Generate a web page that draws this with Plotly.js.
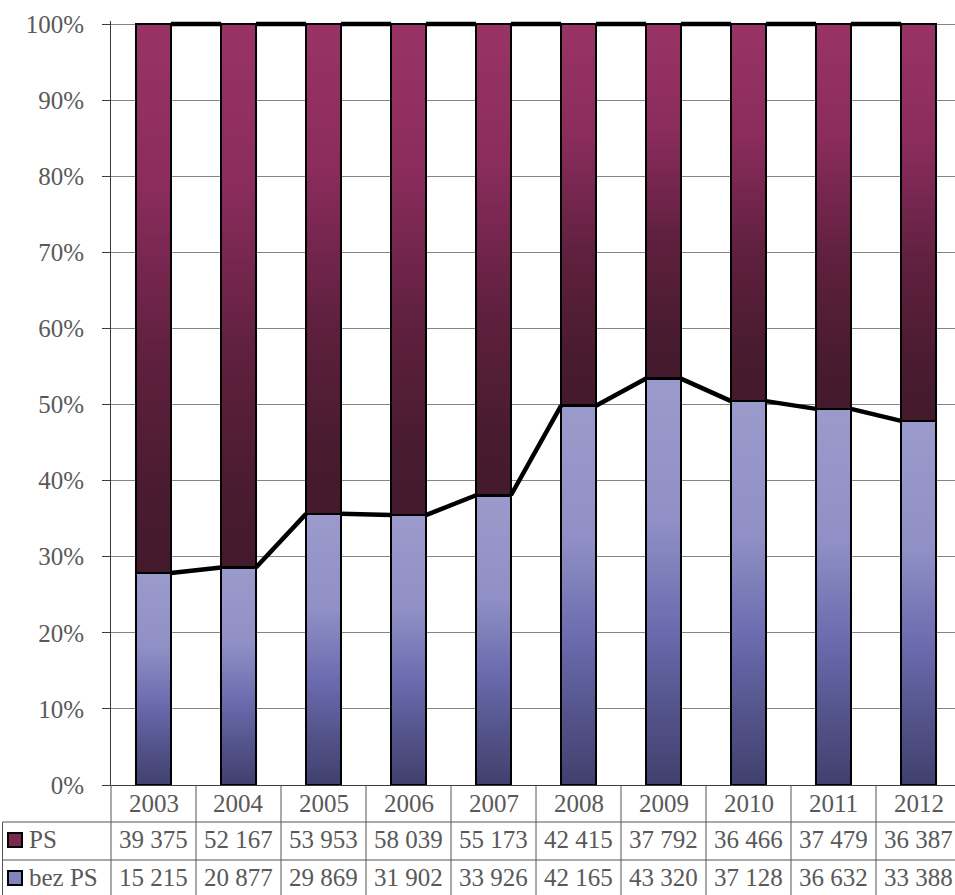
<!DOCTYPE html>
<html>
<head>
<meta charset="utf-8">
<script src="https://cdn.plot.ly/plotly-3.0.1.min.js"></script>
<style>
html,body{margin:0;padding:0;background:#fff;overflow:hidden;}
#chart{width:962px;height:895px;}
</style>
</head>
<body>
<div id="chart"></div>
<script>
// ---- data ----
var years = ['2003','2004','2005','2006','2007','2008','2009','2010','2011','2012'];
var psValues = [39375, 52167, 53953, 58039, 55173, 42415, 37792, 36466, 37479, 36387];
var bezPsValues = [15215, 20877, 29869, 31902, 33926, 42165, 43320, 37128, 36632, 33388];
var seriesNames = ['PS', 'bez PS'];

// ---- geometry / style ----
var W = 962, H = 895;
var M = {l: 111, r: 1, t: 21, b: 110};
var Y_MAX = 100.4;
var plotW = W - M.l - M.r, plotH = H - M.t - M.b;
var BAR_W = 0.41;
var FONT = {family: 'Liberation Serif, Times New Roman, serif', size: 25, color: '#595959'};
var GRID = '#858585', DARK = '#3a3a3a', TABLE = '#555555';

function px2x(px){ return (px - M.l) / plotW; }          // paper x
function py2y(py){ return (M.t + plotH - py) / plotH; }  // paper y
function fmt(n){ return String(n).replace(/\B(?=(\d{3})+(?!\d))/g, ' '); }

var idx = years.map(function(_, i){ return i; });
var bezPct = idx.map(function(i){ return bezPsValues[i] / (bezPsValues[i] + psValues[i]) * 100; });

// series lines (between bars), computed from data
function seriesLine(vals){
  var xs = [], ys = [];
  for (var i = 0; i < vals.length - 1; i++){
    xs.push(i + BAR_W/2, i + 1 - BAR_W/2, null);
    ys.push(vals[i], vals[i+1], null);
  }
  return {xs: xs, ys: ys};
}
var topVals = idx.map(function(){ return 100; });
var sl1 = seriesLine(bezPct), sl2 = seriesLine(topVals);

var traces = [
  {type: 'bar', name: seriesNames[1], x: idx, y: bezPsValues, width: BAR_W,
   marker: {color: '#7f7fbd', line: {color: '#000', width: 2.5}}},
  {type: 'bar', name: seriesNames[0], x: idx, y: psValues, width: BAR_W,
   marker: {color: '#6e2448', line: {color: '#000', width: 2.5}}},
  {type: 'scatter', mode: 'lines', x: sl1.xs, y: sl1.ys, connectgaps: false,
   line: {color: '#000', width: 4.5}, cliponaxis: false, showlegend: false},
  {type: 'scatter', mode: 'lines', x: sl2.xs, y: sl2.ys, connectgaps: false,
   line: {color: '#000', width: 4.5}, cliponaxis: false, showlegend: false}
];

var shapes = [], annotations = [];
// horizontal table lines
[822, 860].forEach(function(py){
  shapes.push({type: 'line', xref: 'paper', yref: 'paper', x0: px2x(2.5), x1: px2x(W), y0: py2y(py), y1: py2y(py),
               line: {color: TABLE, width: 1}});
});
// left border
shapes.push({type: 'line', xref: 'paper', yref: 'paper', x0: px2x(2.5), x1: px2x(2.5), y0: py2y(822), y1: py2y(H),
             line: {color: TABLE, width: 1}});
// vertical category boundaries
for (var k = 0; k <= years.length; k++){
  var xb = k / years.length;
  shapes.push({type: 'line', xref: 'paper', yref: 'paper', x0: xb, x1: xb, y0: py2y(785), y1: py2y(H),
               line: {color: TABLE, width: 1}});
}
// legend keys
function key(pyTop, color){
  shapes.push({type: 'rect', xref: 'paper', yref: 'paper', x0: px2x(8), x1: px2x(22), y0: py2y(pyTop), y1: py2y(pyTop + 14),
               fillcolor: color, line: {color: '#000', width: 2}});
}
key(833, '#7a2852');
key(871, '#8383c0');

// row labels
annotations.push({xref: 'paper', yref: 'paper', x: px2x(27), y: py2y(840), xanchor: 'left', yanchor: 'middle',
                  text: seriesNames[0], showarrow: false, font: FONT});
annotations.push({xref: 'paper', yref: 'paper', x: px2x(27), y: py2y(877), xanchor: 'left', yanchor: 'middle',
                  text: seriesNames[1], showarrow: false, font: FONT});
// table cells
idx.forEach(function(i){
  annotations.push({xref: 'x', yref: 'paper', x: i, y: py2y(803), xanchor: 'center', yanchor: 'middle',
                    text: years[i], showarrow: false, font: FONT});
  annotations.push({xref: 'x', yref: 'paper', x: i, y: py2y(840), xanchor: 'center', yanchor: 'middle',
                    text: fmt(psValues[i]), showarrow: false, font: FONT});
  annotations.push({xref: 'x', yref: 'paper', x: i, y: py2y(877), xanchor: 'center', yanchor: 'middle',
                    text: fmt(bezPsValues[i]), showarrow: false, font: FONT});
});

var layout = {
  width: W, height: H,
  margin: M,
  paper_bgcolor: '#fff', plot_bgcolor: '#fff',
  barmode: 'stack', barnorm: 'percent',
  showlegend: false,
  hovermode: false,
  font: FONT,
  xaxis: {range: [-0.5, years.length - 0.5], showticklabels: false, showgrid: false, zeroline: false,
          showline: true, linecolor: DARK, linewidth: 1, ticks: '', fixedrange: true},
  yaxis: {range: [0, Y_MAX], dtick: 10, tick0: 0, ticksuffix: '%', showgrid: true, gridcolor: GRID, gridwidth: 1,
          zeroline: false, showline: true, linecolor: DARK, linewidth: 1, ticks: 'outside', ticklen: 8,
          tickcolor: DARK, tickfont: FONT, ticklabelstandoff: 13, fixedrange: true},
  shapes: shapes,
  annotations: annotations
};

var gd = document.getElementById('chart');
Plotly.newPlot(gd, traces, layout, {staticPlot: true, displayModeBar: false}).then(function(){
  try {
    var NS = 'http://www.w3.org/2000/svg';
    var svg = gd.querySelector('svg.main-svg');
    var defs = svg.querySelector('defs') || svg.insertBefore(document.createElementNS(NS, 'defs'), svg.firstChild);
    function grad(id, stops){
      var g = document.createElementNS(NS, 'linearGradient');
      g.setAttribute('id', id);
      g.setAttribute('x1', '0'); g.setAttribute('y1', '0'); g.setAttribute('x2', '0'); g.setAttribute('y2', '1');
      stops.forEach(function(s){
        var st = document.createElementNS(NS, 'stop');
        st.setAttribute('offset', s[0]);
        st.setAttribute('stop-color', s[1]);
        g.appendChild(st);
      });
      defs.appendChild(g);
    }
    grad('gradBez', [[0, '#9a9acc'], [0.35, '#9090c6'], [0.62, '#6a6aae'], [0.82, '#53538a'], [1, '#40406e']]);
    grad('gradPS', [[0, '#993366'], [0.3, '#8a2c5c'], [0.6, '#60203f'], [0.85, '#4a1b30'], [1, '#431a2b']]);
    var barTraces = gd.querySelectorAll('.barlayer .trace');
    var ids = ['gradBez', 'gradPS'];
    for (var t = 0; t < barTraces.length && t < 2; t++){
      barTraces[t].querySelectorAll('path').forEach(function(p){
        p.style.fill = 'url(#' + ids[t] + ')';
        p.style.fillOpacity = 1;
      });
    }
  } catch (e) {}
});
</script>
</body>
</html>
